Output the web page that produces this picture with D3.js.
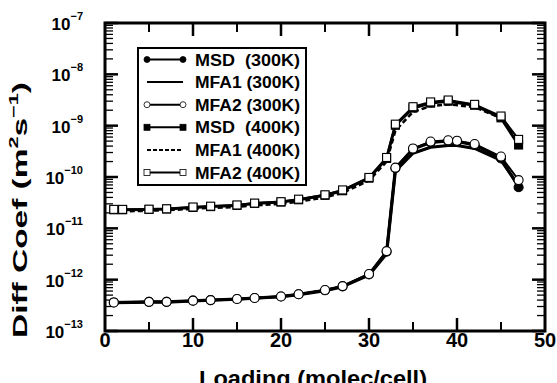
<!DOCTYPE html>
<html>
<head>
<meta charset="utf-8">
<script src="https://cdn.jsdelivr.net/npm/d3@7"></script>
<style>
  body { margin: 0; background: #fff; }
  text { font-family: "Liberation Sans", Arial, sans-serif; font-weight: bold; fill: #000; }
</style>
</head>
<body>
<svg id="chart" width="557" height="383"></svg>
<script>
// loadings (molec/cell)
var load300 = [1, 5, 7, 10, 12, 15, 17, 20, 22, 25, 27, 30, 32, 33, 35, 37, 39, 40, 42, 45, 47];
var load400 = [1, 2, 5, 7, 10, 12, 15, 17, 20, 22, 25, 27, 30, 32, 33, 35, 37, 39, 42, 45, 47];

// diffusion coefficients (m2/s)
var msd300  = [3.6e-13, 3.7e-13, 3.7e-13, 3.9e-13, 4.0e-13, 4.2e-13, 4.4e-13, 4.7e-13, 5.2e-13, 6.2e-13, 7.4e-13, 1.27e-12, 3.5e-12, 1.48e-10, 3.5e-10, 4.7e-10, 5.0e-10, 4.9e-10, 4.2e-10, 2.3e-10, 6.3e-11];
var mfa1300 = [3.55e-13, 3.65e-13, 3.65e-13, 3.85e-13, 3.95e-13, 4.15e-13, 4.35e-13, 4.65e-13, 5.1e-13, 6.1e-13, 7.3e-13, 1.22e-12, 3.2e-12, 1.3e-10, 2.9e-10, 3.8e-10, 4.1e-10, 4.1e-10, 3.6e-10, 2.1e-10, 6.8e-11];
var mfa2300 = [3.6e-13, 3.7e-13, 3.7e-13, 3.9e-13, 4.0e-13, 4.2e-13, 4.4e-13, 4.7e-13, 5.2e-13, 6.3e-13, 7.5e-13, 1.29e-12, 3.6e-12, 1.52e-10, 3.6e-10, 4.9e-10, 5.2e-10, 5.1e-10, 4.4e-10, 2.5e-10, 8.7e-11];

var msd400  = [2.3e-11, 2.3e-11, 2.33e-11, 2.38e-11, 2.55e-11, 2.65e-11, 2.8e-11, 3.05e-11, 3.25e-11, 3.6e-11, 4.4e-11, 5.4e-11, 9.5e-11, 2.3e-10, 1.02e-9, 2.2e-9, 2.75e-9, 3.0e-9, 2.5e-9, 1.42e-9, 4.2e-10];
var mfa1400 = [2.15e-11, 2.15e-11, 2.2e-11, 2.25e-11, 2.4e-11, 2.5e-11, 2.6e-11, 2.8e-11, 3.0e-11, 3.3e-11, 4.0e-11, 4.9e-11, 8.5e-11, 2.0e-10, 8.0e-10, 1.85e-9, 2.4e-9, 2.6e-9, 2.3e-9, 1.4e-9, 4.6e-10];
var mfa2400 = [2.34e-11, 2.34e-11, 2.36e-11, 2.4e-11, 2.6e-11, 2.7e-11, 2.85e-11, 3.1e-11, 3.3e-11, 3.7e-11, 4.5e-11, 5.6e-11, 9.8e-11, 2.4e-10, 1.07e-9, 2.34e-9, 2.9e-9, 3.16e-9, 2.6e-9, 1.54e-9, 5.4e-10];

var xTicks = [0, 10, 20, 30, 40, 50];
var yExps = [-7, -8, -9, -10, -11, -12, -13];
var legendNames = ['MSD  (300K)', 'MFA1 (300K)', 'MFA2 (300K)', 'MSD  (400K)', 'MFA1 (400K)', 'MFA2 (400K)'];

var svg = d3.select('#chart');
// note: "top" is taken by window.top, so use plot_* names
var plot_l = 105, plot_r = 545, plot_t = 23, plot_b = 331;

var x = d3.scaleLinear().domain([0, 50]).range([plot_l, plot_r]);
var y = d3.scaleLog().domain([1e-13, 1e-7]).range([plot_b, plot_t]);

// ticks, all pointing in
var minorX = d3.range(5, 50, 5).filter(function(v) { return v % 10 != 0; });
var drawXTicks = function(yy, dir) {
	svg.selectAll(null).data(xTicks.slice(1, -1)).enter().append('line')
	    .attr('x1', function(d) { return x(d); }).attr('x2', function(d) { return x(d); })
	    .attr('y1', yy).attr('y2', yy + dir * 13)
	    .attr('stroke', 'black').attr('stroke-width', 2.5);
	svg.selectAll(null).data(minorX).enter().append('line')
	    .attr('x1', function(d) { return x(d); }).attr('x2', function(d) { return x(d); })
	    .attr('y1', yy).attr('y2', yy + dir * 9)
	    .attr('stroke', 'black').attr('stroke-width', 2);
};
drawXTicks(plot_b, -1);
drawXTicks(plot_t, 1);

var minorY = [];
for (var e = -13; e < -7; e++) {
	for (var k = 2; k <= 9; k++) minorY.push(k * Math.pow(10, e));
}
var drawYTicks = function(xx, dir) {
	svg.selectAll(null).data(yExps).enter().append('line')
	    .attr('x1', xx).attr('x2', xx + dir * 13)
	    .attr('y1', function(d) { return y(Math.pow(10, d)); })
	    .attr('y2', function(d) { return y(Math.pow(10, d)); })
	    .attr('stroke', 'black').attr('stroke-width', 2.5);
	svg.selectAll(null).data(minorY).enter().append('line')
	    .attr('x1', xx).attr('x2', xx + dir * 8)
	    .attr('y1', function(d) { return y(d); })
	    .attr('y2', function(d) { return y(d); })
	    .attr('stroke', 'black').attr('stroke-width', 1.3);
};
drawYTicks(plot_l, 1);
drawYTicks(plot_r, -1);

// frame
svg.append('rect')
    .attr('x', plot_l).attr('y', plot_t)
    .attr('width', plot_r - plot_l).attr('height', plot_b - plot_t)
    .attr('fill', 'none').attr('stroke', 'black').attr('stroke-width', 3);

// tick labels
svg.selectAll(null).data(xTicks).enter().append('text')
    .attr('x', function(d) { return x(d); })
    .attr('y', 347)
    .attr('text-anchor', 'middle')
    .style('font-size', '20px')
    .text(function(d) { return d; });

var yl = svg.selectAll(null).data(yExps).enter().append('text')
    .attr('x', 83)
    .attr('y', function(d) { return y(Math.pow(10, d)) + 7; })
    .attr('text-anchor', 'end')
    .style('font-size', '17px');
yl.append('tspan').text('10');
yl.append('tspan').attr('dy', -10).style('font-size', '11px')
    .text(function(d) { return '\u2212' + (-d); });

// axis titles (the reference crops the x title at the bottom edge)
svg.append('text')
    .attr('x', 313).attr('y', 386)
    .attr('text-anchor', 'middle')
    .attr('textLength', 228).attr('lengthAdjust', 'spacingAndGlyphs')
    .style('font-size', '22px')
    .text('Loading (molec/cell)');

var yt = svg.append('text')
    .attr('text-anchor', 'middle')
    .style('font-size', '20px');
yt.append('tspan').text('Diff Coef (m');
yt.append('tspan').attr('dy', -9).style('font-size', '13px').text('2');
yt.append('tspan').attr('dy', 9).text('s');
yt.append('tspan').attr('dy', -9).style('font-size', '13px').text('\u22121');
yt.append('tspan').attr('dy', 9).text(')');
var ytw = yt.node().getComputedTextLength();
yt.attr('transform', 'translate(27,210) rotate(-90) scale(' + (256 / ytw) + ',1)');

// series
var line = d3.line()
    .x(function(d) { return x(d[0]); })
    .y(function(d) { return y(d[1]); });

var pairs = function(xs, ys) { return xs.map(function(v, i) { return [v, ys[i]]; }); };

var drawLine = function(data, width, dash) {
	svg.append('path')
	    .attr('d', line(data))
	    .attr('fill', 'none')
	    .attr('stroke', 'black')
	    .attr('stroke-width', width)
	    .attr('stroke-dasharray', dash || null)
	    .attr('stroke-linejoin', 'round');
};

var drawMarkers = function(data, shape, fill) {
	if (shape == 'circle') {
		svg.selectAll(null).data(data).enter().append('circle')
		    .attr('cx', function(d) { return x(d[0]); })
		    .attr('cy', function(d) { return y(d[1]); })
		    .attr('r', 4.5)
		    .attr('fill', fill).attr('stroke', 'black').attr('stroke-width', 1.1);
	} else {
		svg.selectAll(null).data(data).enter().append('rect')
		    .attr('x', function(d) { return x(d[0]) - 4; })
		    .attr('y', function(d) { return y(d[1]) - 4; })
		    .attr('width', 8).attr('height', 8)
		    .attr('fill', fill).attr('stroke', 'black').attr('stroke-width', 1.1);
	}
};

drawLine(pairs(load400, mfa1400), 2.5, '5,3');
drawLine(pairs(load400, msd400), 3);
drawMarkers(pairs(load400, msd400), 'square', 'black');
drawLine(pairs(load400, mfa2400), 2);
drawMarkers(pairs(load400, mfa2400), 'square', 'white');

drawLine(pairs(load300, mfa1300), 3);
drawLine(pairs(load300, msd300), 3);
drawMarkers(pairs(load300, msd300), 'circle', 'black');
drawLine(pairs(load300, mfa2300), 2);
drawMarkers(pairs(load300, mfa2300), 'circle', 'white');

// legend
svg.append('rect')
    .attr('x', 138).attr('y', 48)
    .attr('width', 168).attr('height', 137)
    .attr('fill', 'white').attr('stroke', 'black').attr('stroke-width', 2);

var rowY = d3.scalePoint().domain(legendNames.map(function(d, i) { return i; })).range([59.5, 172.5]);
var legendStyle = [
	{ dash: null, mark: 'circle', fill: 'black' },
	{ dash: null, mark: null },
	{ dash: null, mark: 'circle', fill: 'white' },
	{ dash: null, mark: 'square', fill: 'black' },
	{ dash: '4,2', mark: null },
	{ dash: null, mark: 'square', fill: 'white' }
];
legendNames.forEach(function(name, i) {
	var ry = rowY(i);
	var st = legendStyle[i];
	svg.append('line')
	    .attr('x1', 147).attr('x2', 183).attr('y1', ry).attr('y2', ry)
	    .attr('stroke', 'black').attr('stroke-width', 2)
	    .attr('stroke-dasharray', st.dash);
	[147, 183].forEach(function(mx) {
		if (st.mark == 'circle') {
			svg.append('circle').attr('cx', mx).attr('cy', ry).attr('r', 3)
			    .attr('fill', st.fill).attr('stroke', 'black').attr('stroke-width', 0.8);
		} else if (st.mark == 'square') {
			svg.append('rect').attr('x', mx - 3).attr('y', ry - 3).attr('width', 6).attr('height', 6)
			    .attr('fill', st.fill).attr('stroke', 'black').attr('stroke-width', 0.8);
		}
	});
	svg.append('text')
	    .attr('x', 195).attr('y', ry + 6)
	    .attr('textLength', 105).attr('lengthAdjust', 'spacingAndGlyphs')
	    .style('font-size', '16px')
	    .style('white-space', 'pre')
	    .text(name);
});
</script>
</body>
</html>
